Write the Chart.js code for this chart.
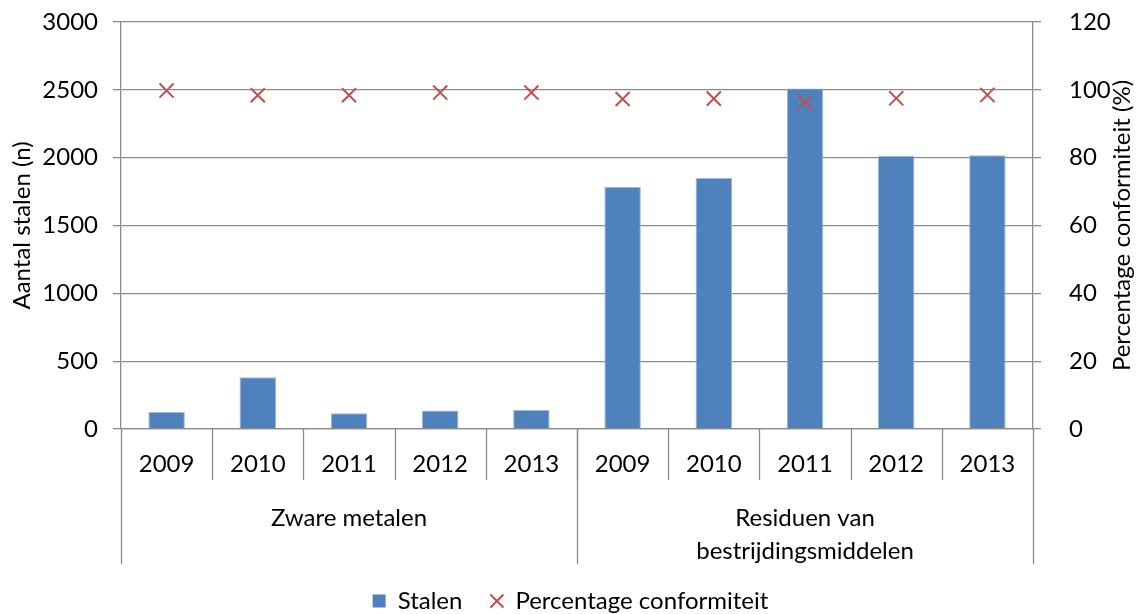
<!DOCTYPE html>
<html>
<head>
<meta charset="utf-8">
<script src="https://cdn.jsdelivr.net/npm/chart.js@4"></script>
<style>
  html, body { margin: 0; padding: 0; background: #fff; }
  #wrap { width: 1141px; height: 614px; }
</style>
</head>
<body>
<div id="wrap"><canvas id="chart" width="1141" height="614"></canvas></div>
<script>
const years = ["2009", "2010", "2011", "2012", "2013", "2009", "2010", "2011", "2012", "2013"];
const groups = ["Zware metalen", ["Residuen van", "bestrijdingsmiddelen"]];
const groupSizes = [5, 5];
const stalen = [125, 382, 116, 136, 140, 1785, 1850, 2510, 2015, 2017];
const conformiteit = [99.8, 98.4, 98.4, 99.2, 99.2, 97.3, 97.4, 96.4, 97.5, 98.5];
const leftTicks = [0, 500, 1000, 1500, 2000, 2500, 3000];
const rightTicks = [0, 20, 40, 60, 80, 100, 120];

const FONT = "Lato, 'Open Sans', sans-serif";
const FSIZE = 24;
const GRID = "#8c8c8c";

// draws the two-level category axis and the right-hand title (bottom-to-top)
const axisLabels = {
  id: "axisLabels",
  afterDraw(chart) {
    const ctx = chart.ctx;
    const x = chart.scales.x;
    const area = chart.chartArea;
    const step = x.getPixelForValue(1) - x.getPixelForValue(0);
    ctx.save();
    ctx.strokeStyle = GRID;
    ctx.lineWidth = 1.3;
    ctx.fillStyle = "#000";
    ctx.font = FSIZE + "px " + FONT;
    ctx.textAlign = "center";
    ctx.textBaseline = "middle";

    years.forEach((y, i) => {
      const cx = x.getPixelForValue(i);
      ctx.fillText(y, cx, area.bottom + 35);
      const edge = cx + step / 2;
      if (i < years.length - 1) {
        ctx.beginPath();
        ctx.moveTo(Math.round(edge) + 0.5, area.bottom);
        ctx.lineTo(Math.round(edge) + 0.5, area.bottom + 51);
        ctx.stroke();
      }
    });

    let start = 0;
    const bounds = [x.getPixelForValue(0) - step / 2];
    groups.forEach((g, gi) => {
      const end = start + groupSizes[gi] - 1;
      const left = x.getPixelForValue(start) - step / 2;
      const right = x.getPixelForValue(end) + step / 2;
      bounds.push(right);
      const lines = Array.isArray(g) ? g : [g];
      lines.forEach((t, li) => {
        ctx.fillText(t, (left + right) / 2, area.bottom + 89 + li * 33);
      });
      start = end + 1;
    });
    bounds.forEach((b) => {
      ctx.beginPath();
      ctx.moveTo(Math.round(b) + 0.5, area.bottom);
      ctx.lineTo(Math.round(b) + 0.5, area.bottom + 135);
      ctx.stroke();
    });

    // right axis title
    ctx.translate(1122, (area.top + area.bottom) / 2);
    ctx.rotate(-Math.PI / 2);
    ctx.fillText("Percentage conformiteit (%)", 0, 0);
    ctx.restore();
  },
};

new Chart(document.getElementById("chart"), {
  data: {
    labels: years.map((y, i) => (i < 5 ? "Zware metalen " : "Residuen ") + y),
    datasets: [
      {
        type: "line",
        label: "Percentage conformiteit",
        data: conformiteit,
        yAxisID: "y1",
        showLine: false,
        pointStyle: "crossRot",
        pointRadius: 10,
        pointBorderWidth: 2,
        borderColor: "#C0504D",
        backgroundColor: "#C0504D",
        order: 0,
      },
      {
        type: "bar",
        label: "Stalen",
        data: stalen,
        yAxisID: "y",
        backgroundColor: "#4F81BD",
        borderColor: "#9DB8DA",
        borderWidth: { top: 1, left: 1, right: 1, bottom: 0 },
        barPercentage: 0.4,
        categoryPercentage: 1,
        order: 1,
      },
    ],
  },
  options: {
    responsive: false,
    animation: false,
    layout: { padding: { top: 22, left: 0, right: 0, bottom: -9 } },
    plugins: {
      tooltip: { enabled: false },
      legend: {
        position: "bottom",
        reverse: true,
        labels: {
          usePointStyle: true,
          color: "#000",
          font: { family: FONT, size: FSIZE },
          boxWidth: 13,
          boxHeight: 13,
          padding: 28,
          generateLabels(chart) {
            return chart.data.datasets.map((ds, i) => ({
              text: ds.label,
              fillStyle: ds.type === "bar" ? "#4F81BD" : "#C0504D",
              strokeStyle: ds.type === "bar" ? "#4F81BD" : "#C0504D",
              lineWidth: ds.type === "bar" ? 0 : 2,
              pointStyle: ds.type === "bar" ? "rect" : "crossRot",
              datasetIndex: i,
              fontColor: "#000",
            }));
          },
        },
      },
    },
    scales: {
      x: {
        offset: true,
        ticks: { display: false },
        grid: { display: false, drawTicks: false },
        border: { display: true, color: GRID, width: 1.3 },
        afterFit(scale) { scale.height = 132; },
      },
      y: {
        position: "left",
        min: 0,
        max: 3000,
        afterBuildTicks(scale) { scale.ticks = leftTicks.map((v) => ({ value: v })); },
        ticks: { color: "#000", font: { family: FONT, size: FSIZE }, padding: 15, callback: (v) => String(v) },
        grid: { color: GRID, lineWidth: 1.3, tickLength: 8 },
        border: { color: GRID, width: 1.3 },
        title: { display: true, text: "Aantal stalen (n)", color: "#000", font: { family: FONT, size: FSIZE }, padding: { top: 8, bottom: 0 } },
        afterFit(scale) { scale.width = 121; scale.paddingTop = 0; scale.paddingBottom = 0; },
      },
      y1: {
        position: "right",
        min: 0,
        max: 120,
        afterBuildTicks(scale) { scale.ticks = rightTicks.map((v) => ({ value: v })); },
        ticks: { color: "#000", font: { family: FONT, size: FSIZE }, padding: 28, callback: (v) => String(v) },
        grid: { drawOnChartArea: false, color: GRID, lineWidth: 1.3, tickLength: 8 },
        border: { color: GRID, width: 1.3 },
        afterFit(scale) { scale.width = 108; scale.paddingTop = 0; scale.paddingBottom = 0; },
      },
    },
  },
  plugins: [axisLabels],
});
</script>
</body>
</html>
